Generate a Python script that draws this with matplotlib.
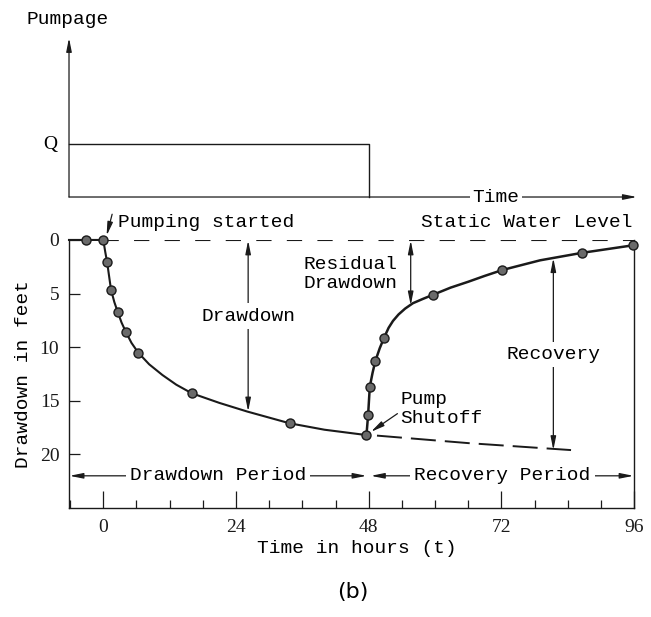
"""
Pumping test sketch: pumpage step (top) and drawdown / recovery curve (bottom).
"""

import matplotlib
matplotlib.use('Agg')
import matplotlib.pyplot as plt
from matplotlib.ticker import MultipleLocator

plt.rcParams['lines.scale_dashes'] = False

MONO = 'Liberation Mono'
SERIF = 'Liberation Serif'
INK = '#1a1a1a'

# ---- data ----
# pumpage step
pump_rate = 1.0          # "Q"
pump_off_hour = 48

# observed points, drawdown phase (hours, feet)
drawdown_t = [-3.1, 0.0, 0.7, 1.4, 2.6, 4.1, 6.3, 16.0, 33.7, 47.6]
drawdown_s = [0.0, 0.0, 2.1, 4.65, 6.7, 8.6, 10.5, 14.3, 17.1, 18.2]

# observed points, recovery phase
recovery_t = [47.9, 48.2, 49.2, 50.8, 59.7, 72.2, 86.6, 95.8]
recovery_s = [16.3, 13.7, 11.3, 9.1, 5.1, 2.8, 1.2, 0.5]

# hand drawn curves
curve_down_t = [-6.2, 0.0, 0.35, 0.7, 1.4, 2.0, 2.6, 3.3, 4.1, 5.1, 6.3, 8.3,
                10.7, 13.2, 16.0, 21.0, 26.0, 33.7, 40.0, 47.6]
curve_down_s = [0.0, 0.0, 1.1, 2.1, 4.65, 5.8, 6.7, 7.7, 8.6, 9.6, 10.5, 11.6,
                12.6, 13.5, 14.3, 15.2, 16.0, 17.1, 17.7, 18.2]
curve_rec_t = [47.6, 47.9, 48.2, 48.7, 49.2, 50.0, 50.8, 51.6, 52.4, 53.4,
               54.6, 56.0, 57.8, 59.7, 62.8, 66.0, 69.0, 72.2, 79.0, 86.6, 95.8]
curve_rec_s = [18.2, 16.3, 13.7, 12.4, 11.3, 10.1, 9.1, 8.2, 7.55, 6.95,
               6.4, 5.9, 5.5, 5.1, 4.45, 3.9, 3.35, 2.8, 1.9, 1.2, 0.5]

# extrapolated drawdown after shutoff (dashed)
extrap_t = [49.5, 66.0, 84.6]
extrap_s = [18.25, 18.95, 19.6]

x_ticks = [0, 24, 48, 72, 96]
y_ticks = [0, 5, 10, 15, 20]

# ---- figure ----
fig = plt.figure(figsize=(6.51, 6.17), dpi=100)
ax = fig.add_axes([0.106, 0.1767, 0.868, 0.4344])
top = fig.add_axes([0.106, 0.6807, 0.868, 0.2577])

xmin, xmax = -6.2, 96
arrow_kw = dict(arrowstyle='-|>,head_length=0.8,head_width=0.16', color=INK,
                lw=0.9, shrinkA=0, shrinkB=0, mutation_scale=10)
both_kw = dict(arrow_kw, arrowstyle='<|-|>,head_length=0.8,head_width=0.16')

# top panel: pumpage
top.set_xlim(xmin, xmax)
top.set_ylim(0, 3)
top.axis('off')
top.plot([xmin, pump_off_hour, pump_off_hour], [pump_rate, pump_rate, 0],
         color=INK, lw=1.0, clip_on=False)
top.annotate('', xy=(xmin, 3), xytext=(xmin, 0), arrowprops=arrow_kw,
             annotation_clip=False)
top.annotate('', xy=(96.5, 0), xytext=(xmin, 0), arrowprops=arrow_kw,
             annotation_clip=False)
top.text(71, 0, 'Time', family=MONO, fontsize=14, ha='center', va='center',
         bbox=dict(facecolor='white', edgecolor='none', pad=2))
top.text(xmin - 2.2, pump_rate, 'Q', family=SERIF, fontsize=14,
         ha='right', va='center')
fig.text(27 / 651, 1 - 19 / 617, 'Pumpage', family=MONO, fontsize=14,
         ha='left', va='center')

# bottom panel: drawdown
ax.set_xlim(xmin, xmax)
ax.set_ylim(25, 0)
ax.spines['top'].set_visible(False)
for s in ['left', 'bottom', 'right']:
    ax.spines[s].set_linewidth(1.0)
    ax.spines[s].set_color(INK)

ax.set_xticks(x_ticks)
ax.xaxis.set_minor_locator(MultipleLocator(6))
ax.set_yticks(y_ticks)
ax.tick_params(axis='x', which='major', direction='in', length=12, width=0.9,
               pad=8, colors=INK, labelsize=14)
ax.tick_params(axis='x', which='minor', direction='in', length=6, width=0.9, colors=INK)
ax.tick_params(axis='y', direction='in', length=8, width=0.9, pad=7,
               colors=INK, labelsize=14)
for lab in ax.get_xticklabels() + ax.get_yticklabels():
    lab.set_family(SERIF)

ax.set_xlabel('Time in hours (t)', family=MONO, fontsize=14, va='center')
ax.xaxis.set_label_coords(0.51, -0.15)
ax.set_ylabel('Drawdown in feet', family=MONO, fontsize=14, va='center')
ax.yaxis.set_label_coords(-0.081, 0.5)

# static water level
ax.plot([0, xmax], [0, 0], color=INK, lw=0.8, dashes=(11, 11), zorder=2)

# curves and points
ax.plot(curve_down_t, curve_down_s, color=INK, lw=1.5, zorder=3, clip_on=False)
ax.plot(curve_rec_t, curve_rec_s, color=INK, lw=1.8, zorder=3, clip_on=False)
ax.plot(extrap_t, extrap_s, color=INK, lw=1.4, dashes=(18, 6.5), zorder=3)
mk = dict(ls='none', marker='o', ms=6.5, mfc='#6a6a6a', mec=INK, mew=1.0,
          zorder=4, clip_on=False)
ax.plot(drawdown_t, drawdown_s, **mk)
ax.plot(recovery_t, recovery_s, **mk)

# annotations
ax.text(2.7, -1.2, 'Pumping started', family=MONO, fontsize=14,
        ha='left', va='baseline')
ax.annotate('', xy=(0.6, -0.4), xytext=(1.6, -2.4), arrowprops=arrow_kw,
            annotation_clip=False)
ax.text(95.8, -1.2, 'Static Water Level', family=MONO, fontsize=14,
        ha='right', va='baseline')

ax.annotate('', xy=(26.2, 0.05), xytext=(26.2, 16.0), arrowprops=both_kw)
ax.text(26.2, 7.1, 'Drawdown', family=MONO, fontsize=14, ha='center', va='center',
        bbox=dict(facecolor='white', edgecolor='none', pad=3))

ax.annotate('', xy=(55.6, 0.05), xytext=(55.6, 6.1), arrowprops=both_kw)
ax.text(53.3, 3.2, 'Residual\nDrawdown', family=MONO, fontsize=14,
        ha='right', va='center', linespacing=1.15)

ax.annotate('', xy=(81.4, 1.7), xytext=(81.4, 19.6), arrowprops=both_kw)
ax.text(81.4, 10.7, 'Recovery', family=MONO, fontsize=14, ha='center', va='center',
        bbox=dict(facecolor='white', edgecolor='none', pad=3))

ax.text(53.8, 15.8, 'Pump\nShutoff', family=MONO, fontsize=14,
        ha='left', va='center', linespacing=1.15)
ax.annotate('', xy=(48.4, 17.9), xytext=(53.2, 16.2), arrowprops=arrow_kw)

ax.annotate('', xy=(xmin + 0.1, 22.0), xytext=(47.6, 22.0), arrowprops=both_kw)
ax.text(20.8, 22.0, 'Drawdown Period', family=MONO, fontsize=14,
        ha='center', va='center',
        bbox=dict(facecolor='white', edgecolor='none', pad=3))
ax.annotate('', xy=(48.4, 22.0), xytext=(95.9, 22.0), arrowprops=both_kw)
ax.text(72.2, 22.0, 'Recovery Period', family=MONO, fontsize=14,
        ha='center', va='center',
        bbox=dict(facecolor='white', edgecolor='none', pad=3))

fig.text(353 / 651, 1 - 592 / 617, '(b)', fontsize=16, ha='center', va='center')

fig.savefig('out.png', dpi=100)
